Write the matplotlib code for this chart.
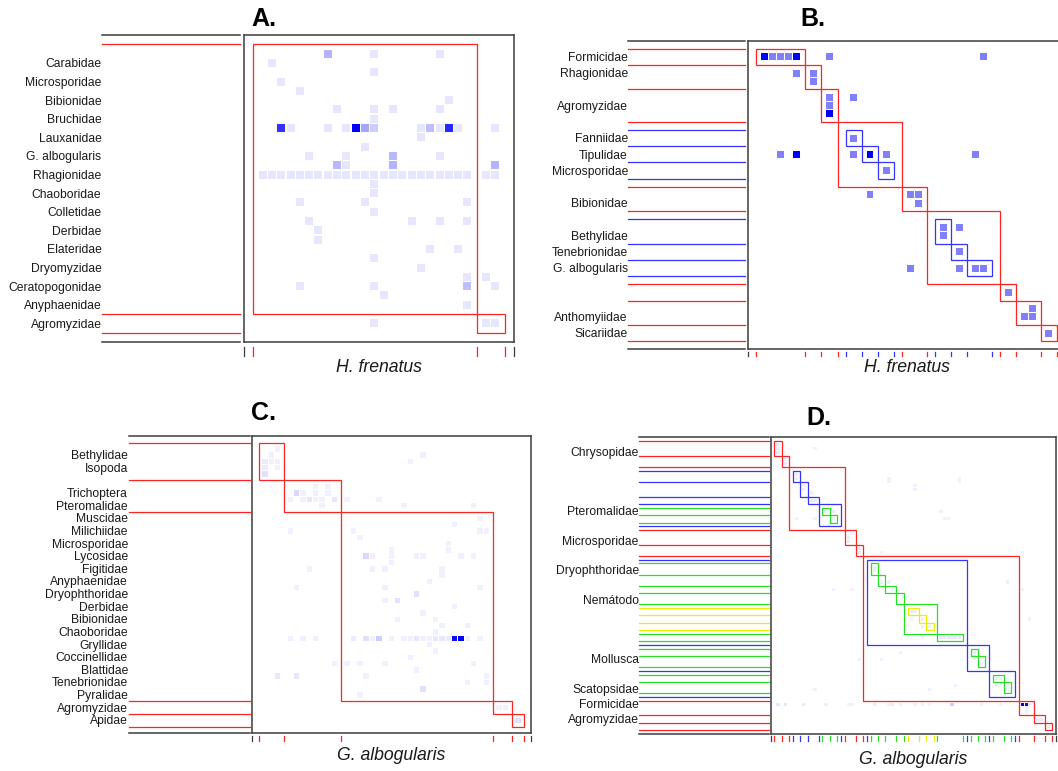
import matplotlib
matplotlib.use('Agg')
import matplotlib.pyplot as plt
from matplotlib.patches import Rectangle

plt.rcParams['font.family'] = ['Liberation Sans', 'DejaVu Sans']

W, H = 1058, 771
LEVEL_COL = ['#ff2424', '#3434ff', '#26e026', '#eeee00']
FRAME = '#3c3c3c'

# ---------------- A: H. frenatus ----------------
a_labels = ['Carabidae', 'Microsporidae', 'Bibionidae', 'Bruchidae', 'Lauxanidae',
            'G. albogularis', 'Rhagionidae', 'Chaoboridae', 'Colletidae', 'Derbidae',
            'Elateridae', 'Dryomyzidae', 'Ceratopogonidae', 'Anyphaenidae', 'Agromyzidae']
a_label_rows = [2, 4, 6, 8, 10, 12, 14, 16, 18, 20, 22, 24, 26, 28, 30]
# (level, col0, col1, row0, row1)
a_modules = [(0, 0, 24, 0, 29), (0, 24, 27, 29, 31)]
# (row, col, weight)
a_cells = [
    (1, 8, .3), (1, 13, .1), (1, 20, .1), (2, 2, .1), (3, 13, .1), (4, 3, .1), (5, 5, .1),
    (6, 21, .1), (7, 9, .1), (7, 13, .1), (7, 15, .1), (7, 20, .1), (8, 13, .1),
    (9, 3, .8), (9, 4, .1), (9, 8, .1), (9, 10, .1), (9, 11, 1.0), (9, 12, .35), (9, 13, .2),
    (9, 18, .1), (9, 19, .25), (9, 20, .1), (9, 21, .85), (9, 22, .1), (9, 26, .1),
    (10, 18, .1), (11, 12, .1), (12, 6, .1), (12, 10, .1), (12, 15, .28), (12, 20, .1),
    (13, 9, .28), (13, 10, .1), (13, 15, .3), (13, 26, .3),
    (14, 1, .1), (14, 2, .1), (14, 3, .1), (14, 4, .1), (14, 5, .1), (14, 6, .1), (14, 7, .1),
    (14, 8, .1), (14, 9, .1), (14, 10, .1), (14, 11, .1), (14, 12, .1), (14, 13, .1),
    (14, 14, .1), (14, 15, .1), (14, 16, .1), (14, 17, .1), (14, 18, .1), (14, 19, .1),
    (14, 20, .1), (14, 21, .1), (14, 22, .1), (14, 23, .1), (14, 25, .1), (14, 26, .1),
    (15, 13, .1), (16, 13, .1), (17, 5, .1), (17, 12, .1), (17, 23, .1), (18, 13, .1),
    (19, 6, .1), (19, 17, .1), (19, 20, .1), (19, 23, .1), (20, 7, .1), (21, 7, .1),
    (22, 19, .1), (22, 22, .1), (23, 13, .1), (24, 18, .1), (25, 23, .1), (25, 25, .1),
    (26, 5, .1), (26, 13, .1), (26, 23, .25), (26, 26, .1), (27, 14, .1), (28, 23, .1),
    (30, 13, .1), (30, 25, .1), (30, 26, .1)]

# ---------------- B: H. frenatus ----------------
b_labels = ['Formicidae', 'Rhagionidae', 'Agromyzidae', 'Fanniidae', 'Tipulidae',
            'Microsporidae', 'Bibionidae', 'Bethylidae', 'Tenebrionidae', 'G. albogularis',
            'Anthomyiidae', 'Sicariidae']
b_label_rows = [1, 3, 7, 11, 13, 15, 19, 23, 25, 27, 33, 35]
b_modules = [(0, 0, 6, 0, 2), (0, 6, 8, 2, 5), (0, 8, 10, 5, 9), (0, 10, 18, 9, 17),
             (0, 18, 21, 17, 20), (0, 21, 30, 20, 29), (0, 30, 32, 29, 31),
             (0, 32, 35, 31, 34), (0, 35, 37, 34, 36),
             (1, 11, 13, 10, 12), (1, 13, 15, 12, 14), (1, 15, 17, 14, 16),
             (1, 22, 24, 21, 24), (1, 24, 26, 24, 26), (1, 26, 29, 26, 28)]
b_cells = [
    (1, 1, 1.0), (1, 2, .5), (1, 3, .5), (1, 4, .5), (1, 5, 1.0), (1, 9, .5), (1, 28, .5),
    (3, 5, .5), (3, 7, .5), (4, 7, .5), (6, 9, .5), (6, 12, .5), (7, 9, .5), (8, 9, 1.0),
    (11, 12, .5), (13, 3, .5), (13, 5, 1.0), (13, 12, .5), (13, 14, 1.0), (13, 16, .5),
    (13, 27, .5), (15, 16, .5), (18, 14, .5), (18, 19, .5), (18, 20, .5), (19, 20, .5),
    (22, 23, .5), (22, 25, .5), (23, 23, .5), (25, 25, .5), (27, 19, .5), (27, 25, .5),
    (27, 27, .5), (27, 28, .5), (30, 31, .5), (32, 34, .5), (33, 33, .5), (33, 34, .5),
    (35, 36, .5)]

# ---------------- C: G. albogularis ----------------
c_labels = ['Bethylidae', 'Isopoda', 'Trichoptera', 'Pteromalidae', 'Muscidae', 'Milichiidae',
            'Microsporidae', 'Lycosidae', 'Figitidae', 'Anyphaenidae', 'Dryophthoridae',
            'Derbidae', 'Bibionidae', 'Chaoboridae', 'Gryllidae', 'Coccinellidae', 'Blattidae',
            'Tenebrionidae', 'Pyralidae', 'Agromyzidae', 'Apidae']
c_label_rows = [2, 4, 8, 10, 12, 14, 16, 18, 20, 22, 24, 26, 28, 30, 32, 34, 36, 38, 40, 42, 44]
c_modules = [(0, 0, 4, 0, 6), (0, 4, 13, 6, 11), (0, 13, 37, 11, 41),
             (0, 37, 40, 41, 43), (0, 40, 42, 43, 45)]
c_cells = [
    (1, 3, .06), (2, 2, .06), (3, 1, .08), (3, 2, .06), (3, 3, .06), (4, 1, .08), (4, 3, .06),
    (5, 1, .12), (2, 26, .06), (3, 24, .06),
    (7, 9, .06), (7, 11, .06), (8, 6, .15), (8, 7, .06), (8, 9, .06), (8, 11, .06), (9, 5, .06),
    (9, 7, .06), (9, 8, .1), (9, 9, .06), (9, 10, .06), (9, 12, .1), (9, 14, .06), (9, 19, .06),
    (10, 10, .06), (10, 23, .06), (10, 34, .06),
    (12, 35, .06), (13, 31, .06), (14, 5, .06), (14, 15, .06), (14, 35, .06), (14, 36, .06),
    (15, 16, .06), (16, 30, .06), (17, 21, .06), (17, 30, .06), (18, 17, .15), (18, 18, .06),
    (18, 21, .06), (18, 25, .06), (18, 26, .06), (18, 32, .06), (18, 34, .06), (19, 21, .06),
    (20, 8, .06), (20, 18, .06), (20, 20, .06), (20, 29, .06), (21, 29, .06), (22, 27, .06),
    (23, 6, .06), (23, 20, .06), (23, 35, .06), (24, 25, .12), (25, 20, .06), (25, 22, .12),
    (26, 31, .06), (27, 26, .06), (28, 22, .06), (28, 28, .06), (29, 29, .06), (29, 33, .06),
    (30, 28, .06),
    (31, 5, .06), (31, 7, .06), (31, 9, .06), (31, 15, .08), (31, 17, .12), (31, 18, .06),
    (31, 19, .2), (31, 21, .06), (31, 23, .06), (31, 24, .06), (31, 25, .1), (31, 26, .06),
    (31, 27, .06), (31, 28, .1), (31, 29, .1), (31, 30, .08), (31, 31, .95), (31, 32, 1.0),
    (31, 33, .06), (31, 35, .06),
    (32, 27, .06), (33, 28, .06), (34, 24, .06), (35, 12, .06), (35, 14, .06), (35, 16, .06),
    (35, 20, .06), (35, 34, .06), (36, 25, .06), (37, 3, .1), (37, 6, .1), (37, 17, .06),
    (37, 36, .06), (38, 33, .06), (38, 36, .06), (39, 26, .12), (40, 16, .06),
    (42, 38, .06), (42, 39, .06), (44, 41, .12)]

# ---------------- D: G. albogularis ----------------
d_labels = ['Chrysopidae', 'Pteromalidae', 'Microsporidae', 'Dryophthoridae', 'Nemátodo',
            'Mollusca', 'Scatopsidae', 'Formicidae', 'Agromyzidae']
d_label_rows = [3, 19, 27, 35, 43, 59, 67, 71, 75]
d_modules = [
    (0, 0, 2, 0, 4), (0, 2, 4, 4, 7), (0, 4, 19, 7, 24), (0, 19, 22, 24, 28),
    (0, 22, 24, 28, 31), (0, 24, 66, 31, 70), (0, 66, 70, 70, 74), (0, 70, 73, 74, 76),
    (0, 73, 75, 76, 78),
    (1, 5, 7, 8, 11), (1, 7, 9, 11, 15), (1, 9, 12, 15, 17), (1, 12, 18, 17, 23),
    (1, 25, 52, 32, 55), (1, 52, 58, 55, 62), (1, 58, 65, 62, 69),
    (2, 13, 15, 18, 20), (2, 15, 17, 20, 22), (2, 26, 28, 33, 36), (2, 28, 30, 36, 39),
    (2, 30, 33, 39, 41), (2, 33, 35, 41, 44), (2, 35, 44, 44, 52), (2, 44, 51, 52, 54),
    (2, 53, 55, 56, 58), (2, 55, 57, 58, 61), (2, 59, 62, 63, 65), (2, 62, 64, 65, 68),
    (3, 36, 39, 45, 47), (3, 39, 41, 47, 49), (3, 41, 43, 49, 51)]
d_cells = [
    (1, 1, .08), (2, 1, .08), (3, 1, .08), (5, 3, .08), (6, 3, .08), (2, 11, .06), (9, 6, .08),
    (10, 6, .08), (12, 8, .06), (13, 8, .06), (14, 10, .06), (16, 10, .08), (16, 11, .08),
    (19, 14, .06), (19, 16, .08), (21, 16, .06), (21, 6, .06), (21, 11, .06), (10, 31, .06),
    (11, 31, .06), (12, 38, .06), (13, 38, .06), (10, 50, .06), (11, 50, .06), (19, 45, .06),
    (21, 46, .06), (21, 47, .06), (25, 21, .06), (26, 20, .08), (27, 20, .08), (29, 23, .08),
    (30, 23, .08), (30, 29, .06), (34, 27, .08), (35, 27, .08), (38, 29, .06), (38, 31, .06),
    (40, 32, .06), (40, 33, .06), (42, 35, .06), (46, 37, .08), (46, 38, .08), (48, 37, .06),
    (48, 40, .06), (50, 40, .06), (50, 42, .06), (53, 40, .06), (53, 45, .08), (53, 46, .08),
    (53, 47, .08), (53, 48, .08), (53, 49, .08), (53, 50, .08), (57, 54, .08), (58, 54, .08),
    (60, 56, .06), (64, 60, .08), (64, 61, .08), (66, 60, .08), (66, 61, .06), (66, 63, .06),
    (67, 63, .06), (38, 63, .06), (48, 69, .06), (40, 67, .06), (40, 16, .06), (40, 21, .06),
    (59, 23, .06), (59, 29, .06), (57, 34, .06), (67, 11, .06), (67, 42, .06), (66, 49, .06),
    (30, 67, .06),
    (71, 1, .1), (71, 3, .1), (71, 8, .08), (71, 14, .06), (71, 20, .06), (71, 21, .06),
    (71, 27, .08), (71, 31, .06), (71, 32, .08), (71, 34, .06), (71, 38, .06), (71, 40, .06),
    (71, 42, .06), (71, 48, .2), (71, 56, .06), (71, 61, .06), (71, 67, 1.0), (71, 68, .95),
    (71, 69, .1), (72, 68, .06), (73, 68, .06), (75, 71, .08), (75, 72, .08), (77, 74, .08)]


def panel(box, xr, yr, modules, cells, labels, label_rows, line_x, tick_off,
          title, title_xy, xlab, xlab_xy):
    L, T, R, B = box
    ax = fig.add_axes([L / W, 1 - B / H, (R - L) / W, (B - T) / H])
    ax.set_xlim(xr[0], xr[1])
    ax.set_ylim(yr[1], yr[0])
    ax.set_xticks([])
    ax.set_yticks([])
    for s in ax.spines.values():
        s.set_color(FRAME)
        s.set_linewidth(1.1)
    px = (R - L) / (xr[1] - xr[0])
    py = (B - T) / (yr[1] - yr[0])

    for r, c, v in cells:
        ax.add_patch(Rectangle((c - 0.43, r - 0.43), 0.86, 0.86,
                               fc=(1 - v, 1 - v, 1), ec='none'))
    for lev, c0, c1, r0, r1 in modules:
        ax.add_patch(Rectangle((c0, r0), c1 - c0, r1 - r0, fill=False,
                               ec=LEVEL_COL[lev], lw=0.9, clip_on=False))

    # colour of each module border position (outermost level wins)
    rb, cb = {}, {}
    for lev, c0, c1, r0, r1 in modules:
        for p in (r0, r1):
            rb[p] = min(rb.get(p, 9), lev)
        for p in (c0, c1):
            cb[p] = min(cb.get(p, 9), lev)

    x0 = xr[0] + (line_x[0] - L) / px
    x1 = xr[0] + (line_x[1] - L) / px
    for p, lev in rb.items():
        ax.plot([x0, x1], [p, p], color=LEVEL_COL[lev], lw=0.9, clip_on=False)
    for p in yr:
        ax.plot([x0, x1], [p, p], color=FRAME, lw=1.1, clip_on=False)

    y0 = yr[1] + tick_off[0] / py
    y1 = yr[1] + tick_off[1] / py
    for p, lev in cb.items():
        ax.plot([p, p], [y0, y1], color=LEVEL_COL[lev], lw=0.9, clip_on=False)
    for p in xr:
        ax.plot([p, p], [y0, y1], color=FRAME, lw=0.9, clip_on=False)

    xl = xr[0] + (line_x[0] - 0.5 - L) / px
    for name, r in zip(labels, label_rows):
        ax.text(xl, r + 0.15, name, ha='right', va='center', fontsize=8.7, color='#1a1a1a')

    fig.text(title_xy[0] / W, 1 - title_xy[1] / H, title, fontsize=18,
             fontweight='bold', ha='center', va='center')
    fig.text(xlab_xy[0] / W, 1 - xlab_xy[1] / H, xlab, fontsize=12.7,
             style='italic', ha='center', va='center', color='#1a1a1a')


fig = plt.figure(figsize=(W / 100, H / 100), dpi=100)

panel((244, 35, 514, 342), (-1, 28), (-1, 32), a_modules, a_cells, a_labels, a_label_rows,
      (102, 240), (4.7, 13.7), 'A.', (264, 19), 'H. frenatus', (379.5, 367))
panel((748.2, 40.6, 1064.9, 349.3), (-1, 38), (-1, 37), b_modules, b_cells, b_labels,
      b_label_rows, (628.4, 744.8), (3, 7), 'B.', (812.7, 19), 'H. frenatus', (907, 367))
panel((252.3, 436.2, 530.6, 733), (-1, 43), (-1, 46), c_modules, c_cells, c_labels,
      c_label_rows, (128.5, 249.5), (3, 8), 'C.', (263, 413), 'G. albogularis', (391.5, 756))
panel((770.5, 437.3, 1055.8, 734), (-1, 76), (-1, 79), d_modules, d_cells, d_labels,
      d_label_rows, (639.3, 768.7), (1.5, 7), 'D.', (819, 418), 'G. albogularis', (913, 760))

fig.savefig('out.png', dpi=100)
